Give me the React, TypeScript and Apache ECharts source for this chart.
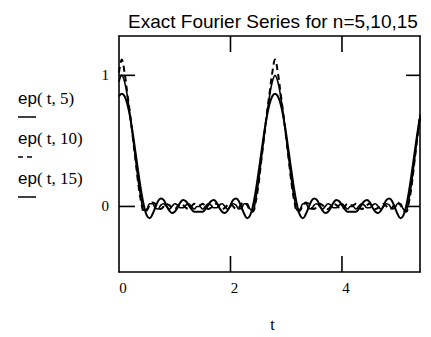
import React, { useEffect, useRef } from "react";
import * as echarts from "echarts";

const T = [0,0.05,0.1,0.15,0.2,0.25,0.3,0.35,0.4,0.45,0.5,0.55,0.6,0.65,0.7,0.75,0.8,0.85,0.9,0.95,1,1.05,1.1,1.15,1.2,1.25,1.3,1.35,1.4,1.45,1.5,1.55,1.6,1.65,1.7,1.75,1.8,1.85,1.9,1.95,2,2.05,2.1,2.15,2.2,2.25,2.3,2.35,2.4,2.45,2.5,2.55,2.6,2.65,2.7,2.75,2.8,2.85,2.9,2.95,3,3.05,3.1,3.15,3.2,3.25,3.3,3.35,3.4,3.45,3.5,3.55,3.6,3.65,3.7,3.75,3.8,3.85,3.9,3.95,4,4.05,4.1,4.15,4.2,4.25,4.3,4.35,4.4,4.45,4.5,4.55,4.6,4.65,4.7,4.75,4.8,4.85,4.9,4.95,5,5.05,5.1,5.15,5.2,5.25,5.3,5.35,5.4];

const EP5 = [
  0.84,0.86,0.84,0.78,0.68,0.55,0.40,0.25,0.11,0.00,-0.07,-0.09,-0.06,-0.01,0.04,0.06,0.05,0.01,-0.03,-0.05,-0.04,-0.01,0.03,0.05,0.04,0.01,-0.02,-0.04,-0.04,
  -0.04,-0.04,-0.02,0.01,0.04,0.05,0.03,-0.01,-0.04,-0.05,-0.03,0.01,0.05,0.06,0.04,-0.01,-0.06,-0.09,-0.07,0.00,0.11,0.25,0.40,0.55,0.68,0.78,0.84,
  0.86,0.84,0.78,0.68,0.55,0.40,0.25,0.11,0.00,-0.07,-0.09,-0.06,-0.01,0.04,0.06,0.05,0.01,-0.03,-0.05,-0.04,-0.01,0.03,0.05,0.04,0.01,-0.02,-0.04,-0.04,
  -0.04,-0.04,-0.02,0.01,0.04,0.05,0.03,-0.01,-0.04,-0.05,-0.03,0.01,0.05,0.06,0.04,-0.01,-0.06,-0.09,-0.07,0.00,0.11,0.25,0.40,0.55,0.68
];

const EP10 = [
  1.02,1.12,1.02,0.86,0.70,0.52,0.34,0.16,0.03,-0.04,-0.03,0.01,0.03,0.02,-0.01,-0.02,0.00,0.02,0.01,-0.01,-0.02,0.00,0.02,0.01,-0.01,-0.02,0.00,0.02,0.01,
  0.01,0.02,0.00,-0.02,-0.01,0.01,0.02,0.00,-0.02,-0.01,0.01,0.02,0.00,-0.02,-0.01,0.02,0.03,0.01,-0.03,-0.04,0.03,0.16,0.34,0.52,0.70,0.86,1.02,
  1.12,1.02,0.86,0.70,0.52,0.34,0.16,0.03,-0.04,-0.03,0.01,0.03,0.02,-0.01,-0.02,0.00,0.02,0.01,-0.01,-0.02,0.00,0.02,0.01,-0.01,-0.02,0.00,0.02,0.01,
  0.01,0.02,0.00,-0.02,-0.01,0.01,0.02,0.00,-0.02,-0.01,0.01,0.02,0.00,-0.02,-0.01,0.02,0.03,0.01,-0.03,-0.04,0.03,0.16,0.34,0.52,0.70
];

const EP15 = [
  0.95,1.00,0.95,0.84,0.69,0.52,0.35,0.18,0.05,-0.03,-0.02,0.02,0.02,-0.01,-0.02,0.01,0.02,0.00,-0.02,0.00,0.02,0.01,-0.01,-0.01,0.01,0.02,0.00,-0.02,0.00,
  0.00,-0.02,0.00,0.02,0.01,-0.01,-0.01,0.01,0.02,0.00,-0.02,0.00,0.02,0.01,-0.02,-0.01,0.02,0.02,-0.02,-0.03,0.05,0.18,0.35,0.52,0.69,0.84,0.95,
  1.00,0.95,0.84,0.69,0.52,0.35,0.18,0.05,-0.03,-0.02,0.02,0.02,-0.01,-0.02,0.01,0.02,0.00,-0.02,0.00,0.02,0.01,-0.01,-0.01,0.01,0.02,0.00,-0.02,0.00,
  0.00,-0.02,0.00,0.02,0.01,-0.01,-0.01,0.01,0.02,0.00,-0.02,0.00,0.02,0.01,-0.02,-0.01,0.02,0.02,-0.02,-0.03,0.05,0.18,0.35,0.52,0.69
];

const X_MIN = 0;
const X_MAX = 5.4;
const Y_MIN = -0.5;
const Y_MAX = 1.3;
const X_TICKS = [0, 2, 4];
const Y_TICKS = [0, 1];
const TITLE = "Exact Fourier Series for n=5,10,15";
const LEGEND = ["5", "10", "15"];

const SERIF = "'Liberation Serif', 'DejaVu Serif', serif";
const SANS = "'Liberation Sans', Arial, sans-serif";

export default function App() {
  const ref = useRef<HTMLDivElement>(null);
  useEffect(() => {
    if (!ref.current) return;
    const chart = echarts.init(ref.current, null, { renderer: "svg" });
    const axisLine = { show: true, onZero: false, lineStyle: { color: "#000", width: 1.6 } };
    const legendY = [101, 141, 181];
    const graphics: any[] = [];
    LEGEND.forEach((n, i) => {
      graphics.push({
        type: "text",
        left: 18,
        top: legendY[i] - 11,
        style: {
          text: "{a|ep}{b|( t, " + n + ")}",
          rich: {
            a: { fontFamily: SANS, fontSize: 17, fill: "#000" },
            b: { fontFamily: SERIF, fontSize: 17, fill: "#000" },
          },
        },
      });
      graphics.push({
        type: "line",
        shape: { x1: 18, y1: legendY[i] + 16, x2: 36, y2: legendY[i] + 16 },
        style: { stroke: "#000", lineWidth: 1.5, lineDash: i === 1 ? [5, 4] : null },
      });
    });
    const tickStyle = { stroke: "#000", lineWidth: 1.6 };
    chart.setOption({
      animation: false,
      backgroundColor: "#fff",
      title: {
        text: TITLE,
        left: 123,
        top: 7,
        textStyle: { fontFamily: SANS, fontSize: 19, fontWeight: "normal", color: "#000" },
      },
      graphic: graphics,
      grid: { left: 119, right: 11, top: 36, bottom: 62 },
      xAxis: [
        {
          type: "value",
          min: X_MIN,
          max: X_MAX,
          position: "bottom",
          name: "t",
          nameLocation: "middle",
          nameGap: 44,
          nameTextStyle: { fontFamily: SERIF, fontSize: 16, color: "#000", padding: [0, 0, 0, 6] },
          axisLine,
          splitLine: { show: false },
          axisTick: { show: false },
          axisLabel: { customValues: X_TICKS, fontFamily: SERIF, fontSize: 15, color: "#000", margin: 8, padding: [0, 0, 0, 8] },
        },
        {
          type: "value",
          min: X_MIN,
          max: X_MAX,
          position: "top",
          axisLine,
          splitLine: { show: false },
          axisTick: { show: false },
          axisLabel: { show: false },
        },
      ],
      yAxis: [
        {
          type: "value",
          min: Y_MIN,
          max: Y_MAX,
          position: "left",
          axisLine,
          splitLine: { show: false },
          axisTick: { show: false },
          axisLabel: { customValues: Y_TICKS, fontFamily: SERIF, fontSize: 15, color: "#000", margin: 10 },
        },
        {
          type: "value",
          min: Y_MIN,
          max: Y_MAX,
          position: "right",
          axisLine,
          splitLine: { show: false },
          axisTick: { show: false },
          axisLabel: { show: false },
        },
      ],
      series: [
        {
          type: "custom",
          silent: true,
          data: X_TICKS.filter((v) => v > X_MIN).map((v) => [v]),
          renderItem: (params: any, api: any) => {
            const v = api.value(0);
            const b = api.coord([v, Y_MIN]);
            const t = api.coord([v, Y_MAX]);
            return {
              type: "group",
              children: [
                { type: "line", shape: { x1: b[0], y1: b[1], x2: b[0], y2: b[1] - 16 }, style: tickStyle },
                { type: "line", shape: { x1: t[0], y1: t[1], x2: t[0], y2: t[1] + 16 }, style: tickStyle },
              ],
            };
          },
        },
        {
          type: "custom",
          silent: true,
          data: Y_TICKS.map((v) => [X_MIN, v]),
          renderItem: (params: any, api: any) => {
            const v = api.value(1);
            const l = api.coord([X_MIN, v]);
            const r = api.coord([X_MAX, v]);
            return {
              type: "group",
              children: [
                { type: "line", shape: { x1: l[0], y1: l[1], x2: l[0] + 16, y2: l[1] }, style: tickStyle },
                { type: "line", shape: { x1: r[0], y1: r[1], x2: r[0] - 14, y2: r[1] }, style: tickStyle },
              ],
            };
          },
        },
        {
          type: "line",
          name: "ep(t,5)",
          data: T.map((t, i) => [t, EP5[i]]),
          showSymbol: false,
          smooth: 0.4,
          lineStyle: { color: "#000", width: 2 },
        },
        {
          type: "line",
          name: "ep(t,10)",
          data: T.map((t, i) => [t, EP10[i]]),
          showSymbol: false,
          smooth: 0.4,
          lineStyle: { color: "#000", width: 2, type: [6, 4] },
        },
        {
          type: "line",
          name: "ep(t,15)",
          data: T.map((t, i) => [t, EP15[i]]),
          showSymbol: false,
          smooth: 0.4,
          lineStyle: { color: "#000", width: 1.6 },
        },
      ],
    });
    return () => chart.dispose();
  }, []);
  return <div ref={ref} style={{ width: 431, height: 337, position: "fixed", left: 0, top: 0 }} />;
}
